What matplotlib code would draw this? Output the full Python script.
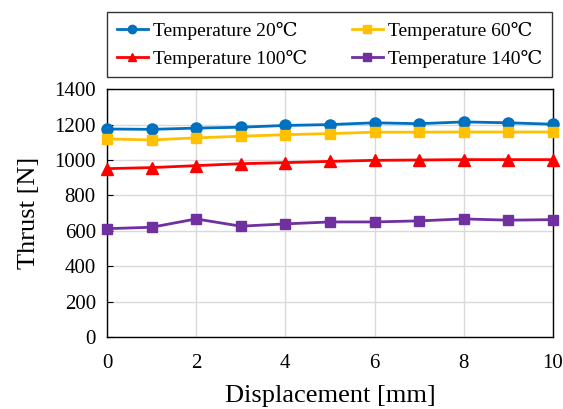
import matplotlib
matplotlib.use("Agg")
import matplotlib.pyplot as plt

plt.rcParams['font.family'] = ['Liberation Serif', 'DejaVu Serif']

displacement = [0, 1, 2, 3, 4, 5, 6, 7, 8, 9, 10]
t20 = [1175, 1173, 1180, 1185, 1195, 1200, 1210, 1205, 1215, 1210, 1202]
t60 = [1119, 1113, 1125, 1134, 1143, 1149, 1157, 1157, 1158, 1158, 1158]
t100 = [951, 957, 968, 979, 985, 992, 998, 1000, 1002, 1002, 1002]
t140 = [612, 620, 667, 626, 639, 650, 650, 656, 667, 660, 663]
labels = ["Temperature 20\u2103", "Temperature 60\u2103", "Temperature 100\u2103", "Temperature 140\u2103"]

fig = plt.figure(figsize=(5.63, 4.09), dpi=100)
ax = fig.add_axes([0.190, 0.176, 0.792, 0.606])

series = [
    (t20, '#0070C0', 'o', 8),
    (t60, '#FFC000', 's', 7.5),
    (t100, '#FF0000', '^', 8),
    (t140, '#7030A0', 's', 7.5),
]
handles = []
for (vals, c, m, ms), lab in zip(series, labels):
    h, = ax.plot(displacement, vals, color=c, marker=m, markersize=ms, linewidth=2, label=lab, clip_on=False, zorder=3)
    handles.append(h)

ax.set_xlim(0, 10)
ax.set_ylim(0, 1400)
ax.set_xticks([0, 2, 4, 6, 8, 10])
ax.set_yticks(range(0, 1401, 200))
ax.grid(True, color='#D9D9D9', linewidth=1)
ax.set_axisbelow(True)
for s in ax.spines.values():
    s.set_color('black')
    s.set_linewidth(1)
ax.tick_params(axis='both', labelsize=15, direction='in', length=4, pad=8)
ax.tick_params(axis='x', length=0, pad=12)
ax.set_xlabel('Displacement [mm]', fontsize=19, labelpad=9)
ax.set_ylabel('Thrust [N]', fontsize=19, labelpad=10)

order = [0, 2, 1, 3]
leg = fig.legend(handles=[handles[i] for i in order], labels=[labels[i] for i in order], loc='upper left',
                 bbox_to_anchor=(107/563, 1 - 77/409, 445/563, 65/409),
                 mode='expand', ncol=2, fontsize=14, frameon=True, fancybox=False,
                 edgecolor='black', handlelength=1.6, columnspacing=1.0, borderaxespad=0,
                 handletextpad=0.25, markerscale=0.75, borderpad=0.5, labelspacing=0.5)
leg.get_frame().set_linewidth(1)

fig.savefig('out.png', dpi=100)
